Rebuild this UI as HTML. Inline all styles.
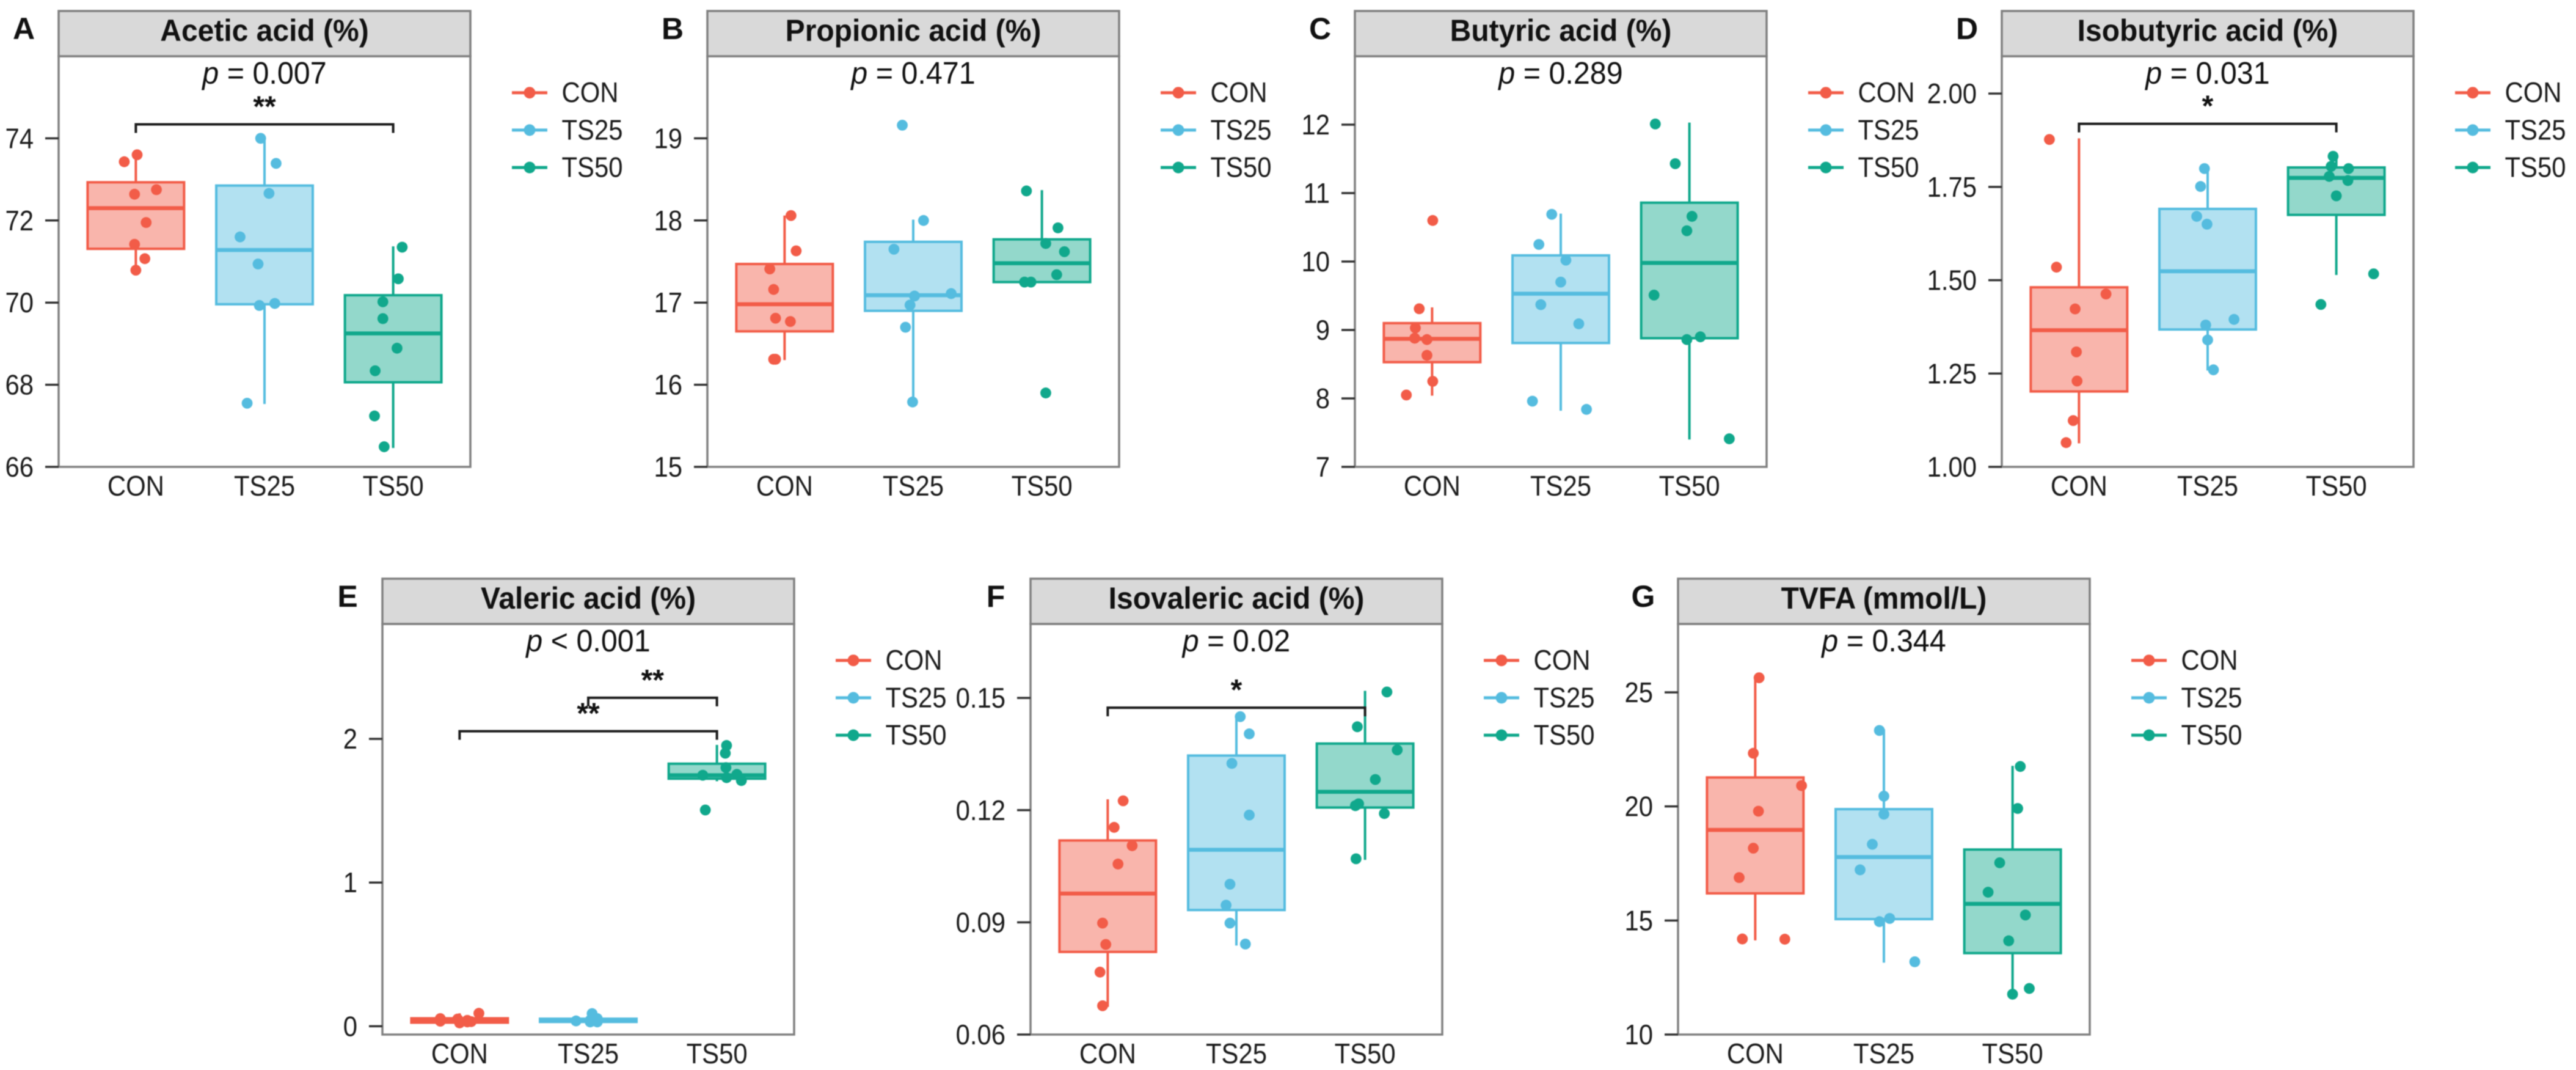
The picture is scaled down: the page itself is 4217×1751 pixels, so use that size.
<!DOCTYPE html>
<html lang="en">
<head>
<meta charset="utf-8">
<title>Volatile fatty acid boxplots</title>
<style>
html,body{margin:0;padding:0;background:#fff;}
svg{display:block;font-family:"Liberation Sans",Arial,sans-serif;filter:blur(0.7px);}
</style>
</head>
<body>
<svg id="chart" xmlns="http://www.w3.org/2000/svg" width="4217" height="1751" viewBox="0 0 4217 1751"></svg>
<script>
const categories = ['CON', 'TS25', 'TS50'];
const seriesColors = ['#F25C48', '#55BCDF', '#10A88C'];

/* Panel A */
const aceticTicks = ['66', '68', '70', '72', '74'];
const aceticDomain = [66, 76];
const aceticValues = [
  [73.43, 73.6, 72.75, 72.64, 71.95, 71.42, 71.07, 70.79],
  [74.0, 73.39, 72.66, 71.6, 70.94, 69.93, 69.98, 67.55],
  [71.35, 70.58, 70.02, 69.61, 68.89, 68.34, 67.24, 66.49]
];
const aceticJitter = [
  [-0.09, 0.01, 0.16, -0.01, 0.08, -0.01, 0.07, 0],
  [-0.03, 0.09, 0.035, -0.19, -0.05, -0.04, 0.08, -0.135],
  [0.07, 0.04, -0.08, -0.08, 0.03, -0.14, -0.145, -0.07]
];
const aceticQ1 = [71.31, 69.96, 68.06];
const aceticMedian = [72.3, 71.28, 69.25];
const aceticQ3 = [72.93, 72.85, 70.18];
const aceticLow = [70.79, 67.53, 66.46];
const aceticHigh = [73.6, 74.0, 71.37];
const aceticBrackets = [{from: 0, to: 2, level: 74.34, label: '**'}];

/* Panel B */
const propionicTicks = ['15', '16', '17', '18', '19'];
const propionicDomain = [15, 20];
const propionicValues = [
  [18.06, 17.63, 17.41, 17.16, 16.81, 16.77, 16.31, 16.31],
  [19.16, 18.0, 17.65, 17.08, 17.11, 16.97, 16.7, 15.79],
  [18.36, 17.91, 17.72, 17.62, 17.34, 17.25, 17.25, 15.9]
];
const propionicJitter = [
  [0.05, 0.09, -0.115, -0.085, -0.07, 0.045, -0.085, -0.07],
  [-0.085, 0.08, -0.15, 0.01, 0.295, -0.025, -0.06, -0.005],
  [-0.12, 0.125, 0.03, 0.175, 0.115, -0.135, -0.085, 0.03]
];
const propionicQ1 = [16.65, 16.9, 17.25];
const propionicMedian = [16.98, 17.09, 17.48];
const propionicQ3 = [17.47, 17.74, 17.77];
const propionicLow = [16.3, 15.79, 17.25];
const propionicHigh = [18.06, 18.01, 18.37];
const propionicBrackets = [];

/* Panel C */
const butyricTicks = ['7', '8', '9', '10', '11', '12'];
const butyricDomain = [7, 13];
const butyricValues = [
  [10.6, 9.31, 9.03, 8.88, 8.86, 8.63, 8.25, 8.05],
  [10.69, 10.25, 10.02, 9.7, 9.37, 9.09, 7.96, 7.84],
  [12.01, 11.43, 10.66, 10.45, 9.51, 8.9, 8.86, 7.41]
];
const butyricJitter = [
  [0.005, -0.1, -0.13, -0.135, -0.04, -0.04, 0.005, -0.2],
  [-0.07, -0.17, 0.04, 0, -0.155, 0.14, -0.22, 0.2],
  [-0.265, -0.11, 0.02, -0.02, -0.275, 0.085, -0.02, 0.31]
];
const butyricQ1 = [8.53, 8.81, 8.88];
const butyricMedian = [8.87, 9.53, 9.98];
const butyricQ3 = [9.1, 10.09, 10.86];
const butyricLow = [8.04, 7.82, 7.4];
const butyricHigh = [9.33, 10.7, 12.03];
const butyricBrackets = [];

/* Panel D */
const isobutyricTicks = ['1.00', '1.25', '1.50', '1.75', '2.00'];
const isobutyricDomain = [1, 2.1];
const isobutyricValues = [
  [1.877, 1.535, 1.463, 1.423, 1.308, 1.23, 1.124, 1.065],
  [1.799, 1.751, 1.671, 1.65, 1.395, 1.38, 1.34, 1.26],
  [1.832, 1.805, 1.799, 1.778, 1.767, 1.726, 1.517, 1.435]
];
const isobutyricJitter = [
  [-0.23, -0.175, 0.21, -0.03, -0.02, -0.015, -0.045, -0.1],
  [-0.025, -0.055, -0.085, -0.005, 0.205, -0.015, 0, 0.045],
  [-0.025, -0.04, 0.095, -0.055, 0.09, 0, 0.29, -0.12]
];
const isobutyricQ1 = [1.202, 1.368, 1.675];
const isobutyricMedian = [1.366, 1.524, 1.774];
const isobutyricQ3 = [1.481, 1.691, 1.802];
const isobutyricLow = [1.063, 1.258, 1.514];
const isobutyricHigh = [1.88, 1.8, 1.832];
const isobutyricBrackets = [{from: 0, to: 2, level: 1.919, label: '*'}];

/* Panel E */
const valericTicks = ['0', '1', '2'];
const valericDomain = [-0.058, 2.8];
const valericValues = [
  [0.09, 0.053, 0.05, 0.035, 0.023, 0.041, 0.032, 0.03],
  [0.088, 0.065, 0.037, 0.041, 0.053, 0.03, 0.03, 0.037],
  [1.954, 1.9, 1.8, 1.747, 1.73, 1.753, 1.71, 1.505]
];
const valericJitter = [
  [0.15, -0.15, -0.015, -0.15, 0, 0.06, 0.09, 0.06],
  [0.03, 0.035, -0.095, 0.015, 0.07, 0.07, 0.015, 0.05],
  [0.075, 0.065, 0.07, -0.11, 0.075, 0.155, 0.19, -0.09]
];
const valericQ1 = [0.025, 0.03, 1.723];
const valericMedian = [0.041, 0.04, 1.747];
const valericQ3 = [0.055, 0.052, 1.827];
const valericLow = [0.023, 0.03, 1.705];
const valericHigh = [0.09, 0.088, 1.958];
const valericBrackets = [
  {from: 0, to: 2, level: 2.053, label: '**'},
  {from: 1, to: 2, level: 2.286, label: '**'}
];

/* Panel F */
const isovalericTicks = ['0.06', '0.09', '0.12', '0.15'];
const isovalericDomain = [0.06, 0.1698];
const isovalericValues = [
  [0.1225, 0.1154, 0.1105, 0.1056, 0.0898, 0.0841, 0.0767, 0.0677],
  [0.145, 0.1404, 0.1325, 0.1187, 0.1002, 0.0946, 0.0898, 0.0842],
  [0.1516, 0.1423, 0.1361, 0.1282, 0.1217, 0.1212, 0.1191, 0.107]
];
const isovalericJitter = [
  [0.12, 0.05, 0.19, 0.08, -0.04, -0.015, -0.06, -0.04],
  [0.03, 0.1, -0.035, 0.1, -0.05, -0.08, -0.05, 0.07],
  [0.17, -0.06, 0.25, 0.08, -0.05, -0.075, 0.15, -0.07]
];
const isovalericQ1 = [0.0821, 0.0933, 0.1207];
const isovalericMedian = [0.0977, 0.1094, 0.1249];
const isovalericQ3 = [0.1119, 0.1346, 0.1378];
const isovalericLow = [0.0674, 0.0838, 0.1067];
const isovalericHigh = [0.1229, 0.1452, 0.1519];
const isovalericBrackets = [{from: 0, to: 2, level: 0.1474, label: '*'}];

/* Panel G */
const tvfaTicks = ['10', '15', '20', '25'];
const tvfaDomain = [10, 28];
const tvfaValues = [
  [25.64, 22.33, 20.91, 19.79, 18.17, 16.88, 14.19, 14.18],
  [23.33, 20.45, 19.66, 18.34, 17.22, 15.09, 14.95, 13.19],
  [21.75, 19.91, 17.53, 16.24, 15.24, 14.11, 12.02, 11.77]
];
const tvfaJitter = [
  [0.03, -0.015, 0.36, 0.025, -0.015, -0.125, -0.1, 0.23],
  [-0.035, 0, 0, -0.09, -0.185, 0.045, -0.035, 0.24],
  [0.06, 0.04, -0.1, -0.19, 0.1, -0.03, 0.13, 0]
];
const tvfaQ1 = [16.19, 15.06, 13.57];
const tvfaMedian = [18.97, 17.78, 15.73];
const tvfaQ3 = [21.27, 19.88, 18.11];
const tvfaLow = [14.13, 13.15, 11.77];
const tvfaHigh = [25.7, 23.38, 21.78];
const tvfaBrackets = [];

const panels = [
  {slug: 'acetic', letter: 'A', title: 'Acetic acid (%)', pText: ' = 0.007', left: 96, top: 18, ticks: aceticTicks, domain: aceticDomain, values: aceticValues, jitter: aceticJitter, q1: aceticQ1, median: aceticMedian, q3: aceticQ3, low: aceticLow, high: aceticHigh, brackets: aceticBrackets},
  {slug: 'propionic', letter: 'B', title: 'Propionic acid (%)', pText: ' = 0.471', left: 1158, top: 18, ticks: propionicTicks, domain: propionicDomain, values: propionicValues, jitter: propionicJitter, q1: propionicQ1, median: propionicMedian, q3: propionicQ3, low: propionicLow, high: propionicHigh, brackets: propionicBrackets},
  {slug: 'butyric', letter: 'C', title: 'Butyric acid (%)', pText: ' = 0.289', left: 2218, top: 18, ticks: butyricTicks, domain: butyricDomain, values: butyricValues, jitter: butyricJitter, q1: butyricQ1, median: butyricMedian, q3: butyricQ3, low: butyricLow, high: butyricHigh, brackets: butyricBrackets},
  {slug: 'isobutyric', letter: 'D', title: 'Isobutyric acid (%)', pText: ' = 0.031', left: 3277, top: 18, ticks: isobutyricTicks, domain: isobutyricDomain, values: isobutyricValues, jitter: isobutyricJitter, q1: isobutyricQ1, median: isobutyricMedian, q3: isobutyricQ3, low: isobutyricLow, high: isobutyricHigh, brackets: isobutyricBrackets},
  {slug: 'valeric', letter: 'E', title: 'Valeric acid (%)', pText: ' < 0.001', left: 626, top: 947, ticks: valericTicks, domain: valericDomain, values: valericValues, jitter: valericJitter, q1: valericQ1, median: valericMedian, q3: valericQ3, low: valericLow, high: valericHigh, brackets: valericBrackets},
  {slug: 'isovaleric', letter: 'F', title: 'Isovaleric acid (%)', pText: ' = 0.02', left: 1687, top: 947, ticks: isovalericTicks, domain: isovalericDomain, values: isovalericValues, jitter: isovalericJitter, q1: isovalericQ1, median: isovalericMedian, q3: isovalericQ3, low: isovalericLow, high: isovalericHigh, brackets: isovalericBrackets},
  {slug: 'tvfa', letter: 'G', title: 'TVFA (mmol/L)', pText: ' = 0.344', left: 2747, top: 947, ticks: tvfaTicks, domain: tvfaDomain, values: tvfaValues, jitter: tvfaJitter, q1: tvfaQ1, median: tvfaMedian, q3: tvfaQ3, low: tvfaLow, high: tvfaHigh, brackets: tvfaBrackets}
];

const NS = 'http://www.w3.org/2000/svg';
const root = document.getElementById('chart');
const PANEL_W = 674, HEADER_H = 74, PLOT_H = 672;
const BORDER = '#808080', INK = '#1c1c1c';

function mk(tag, attrs, parent) {
  const node = document.createElementNS(NS, tag);
  for (const k in attrs) node.setAttribute(k, attrs[k]);
  parent.appendChild(node);
  return node;
}

/* Reference type is slightly condensed: keep it tall but narrow it horizontally. */
function squeezed(x, y, sx) {
  return 'translate(' + x + ' ' + y + ') scale(' + sx + ' 1)';
}

function drawPanel(p) {
  const plotTop = p.top + HEADER_H;
  const plotBottom = plotTop + PLOT_H;
  const right = p.left + PANEL_W;
  const xCat = i => p.left + (i + 0.6) * PANEL_W / 3.2;
  const yVal = v => plotBottom - (v - p.domain[0]) / (p.domain[1] - p.domain[0]) * PLOT_H;
  const unit = PANEL_W / 3.2;
  const halfBox = 0.375 * unit;

  const g = mk('g', {}, root);
  
  

  const letter = mk('text', {x: p.left - 57, y: p.top + 46, 'font-size': 50, 'font-weight': 700, 'text-anchor': 'middle', fill: '#111'}, g);
  letter.textContent = p.letter;
  
  

  const plotBg = mk('rect', {x: p.left, y: plotTop, width: PANEL_W, height: PLOT_H, fill: '#fff', stroke: BORDER, 'stroke-width': 3.5}, g);
  
  

  const header = mk('rect', {x: p.left, y: p.top, width: PANEL_W, height: HEADER_H, fill: '#D9D9D9', stroke: BORDER, 'stroke-width': 3.5}, g);
  
  

  const title = mk('text', {transform: squeezed(p.left + PANEL_W / 2, p.top + 49, 0.96), 'font-size': 50, 'font-weight': 700, 'text-anchor': 'middle', fill: '#111'}, g);
  title.textContent = p.title;
  
  

  const pLabel = mk('text', {transform: squeezed(p.left + PANEL_W / 2, plotTop + 45, 0.95), 'font-size': 51, 'text-anchor': 'middle', fill: '#111'}, g);
  
  
  const pItalic = mk('tspan', {'font-style': 'italic'}, pLabel);
  pItalic.textContent = 'p';
  const pRest = mk('tspan', {}, pLabel);
  pRest.textContent = p.pText;

  p.ticks.forEach(t => {
    const y = yVal(parseFloat(t));
    const mark = mk('line', {x1: p.left - 22, x2: p.left, y1: y, y2: y, stroke: '#333', 'stroke-width': 3.5}, g);
    
    
    const lab = mk('text', {transform: squeezed(p.left - 41, y + 16, 0.9), 'font-size': 46.5, 'text-anchor': 'end', fill: INK}, g);
    lab.textContent = t;
    
    
  });

  categories.forEach((c, i) => {
    const cx = xCat(i), col = seriesColors[i];
    const xl = mk('text', {transform: squeezed(cx, plotBottom + 47, 0.9), 'font-size': 46.5, 'text-anchor': 'middle', fill: INK}, g);
    xl.textContent = c;
    
    

    const whiskerUp = mk('line', {x1: cx, x2: cx, y1: yVal(p.high[i]), y2: yVal(p.q3[i]), stroke: col, 'stroke-width': 4}, g);
    
    
    const whiskerDown = mk('line', {x1: cx, x2: cx, y1: yVal(p.q1[i]), y2: yVal(p.low[i]), stroke: col, 'stroke-width': 4}, g);
    
    

    const box = mk('rect', {x: cx - halfBox, y: yVal(p.q3[i]), width: 2 * halfBox, height: yVal(p.q1[i]) - yVal(p.q3[i]), fill: col, 'fill-opacity': 0.45, stroke: col, 'stroke-width': 4}, g);
    
    

    const med = mk('line', {x1: cx - halfBox, x2: cx + halfBox, y1: yVal(p.median[i]), y2: yVal(p.median[i]), stroke: col, 'stroke-width': 6.5}, g);
    
    

    p.values[i].forEach((v, j) => {
      const dot = mk('circle', {cx: cx + p.jitter[i][j] * unit, cy: yVal(v), r: 8.9, fill: col}, g);
      
      
    });
  });

  p.brackets.forEach(b => {
    const x1 = xCat(b.from), x2 = xCat(b.to), y = yVal(b.level);
    const path = mk('path', {d: 'M' + x1 + ' ' + (y + 14) + 'V' + y + 'H' + x2 + 'V' + (y + 14), fill: 'none', stroke: INK, 'stroke-width': 4}, g);
    
    
    const star = mk('text', {x: (x1 + x2) / 2, y: y - 13, 'font-size': 48, 'font-weight': 700, 'text-anchor': 'middle', fill: '#111'}, g);
    star.textContent = b.label;
    
    
  });

  const legend = mk('g', {}, g);
  
  
  categories.forEach((c, i) => {
    const y = p.top + 133.7 + i * 61.2;
    const entry = mk('g', {}, legend);
    
    
    mk('line', {x1: right + 68, x2: right + 126, y1: y, y2: y, stroke: seriesColors[i], 'stroke-width': 5}, entry);
    mk('circle', {cx: right + 97, cy: y, r: 9.5, fill: seriesColors[i]}, entry);
    const label = mk('text', {transform: squeezed(right + 149.5, y + 15.5, 0.9), 'font-size': 46.5, fill: INK}, entry);
    label.textContent = c;
  });
}

panels.forEach(drawPanel);
</script>
</body>
</html>
